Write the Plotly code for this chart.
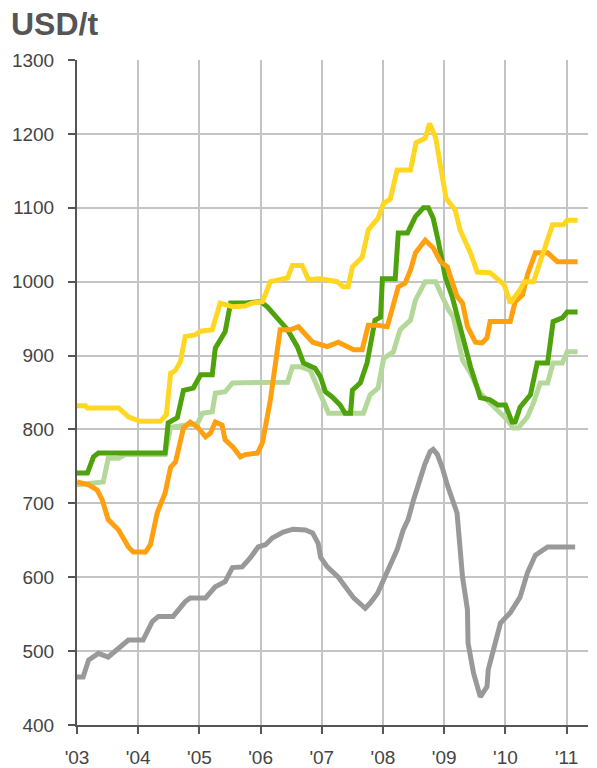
import plotly.graph_objects as go

# (decimal year, USD/t)
yellow = [(2003.00,832),(2003.14,832),(2003.17,829),(2003.68,829),(2003.84,817),(2004.03,811),(2004.36,811),(2004.46,820),(2004.53,876),(2004.61,880),(2004.69,892),(2004.77,926),(2004.93,928),(2005.02,933),(2005.21,935),(2005.34,971),(2005.55,966),(2005.75,967),(2005.86,971),(2006.03,973),(2006.16,1000),(2006.44,1005),(2006.52,1022),(2006.68,1022),(2006.78,1003),(2006.98,1004),(2007.25,1000),(2007.35,993),(2007.43,993),(2007.50,1020),(2007.66,1033),(2007.76,1070),(2007.92,1086),(2008.01,1106),(2008.12,1112),(2008.23,1151),(2008.45,1151),(2008.54,1188),(2008.69,1194),(2008.76,1214),(2008.86,1195),(2008.94,1160),(2009.03,1113),(2009.18,1097),(2009.26,1070),(2009.43,1039),(2009.54,1013),(2009.75,1012),(2009.87,1004),(2009.98,996),(2010.08,971),(2010.16,979),(2010.24,989),(2010.31,1000),(2010.46,1000),(2010.77,1077),(2010.95,1077),(2011.01,1083),(2011.18,1083)]

dark_green = [(2003.00,741),(2003.17,741),(2003.27,763),(2003.35,768),(2004.44,768),(2004.49,809),(2004.64,816),(2004.74,853),(2004.90,856),(2005.02,874),(2005.21,874),(2005.26,910),(2005.42,932),(2005.51,971),(2005.75,971),(2006.00,973),(2006.11,966),(2006.27,952),(2006.44,935),(2006.60,912),(2006.70,890),(2006.89,883),(2006.98,871),(2007.06,851),(2007.17,844),(2007.30,833),(2007.38,822),(2007.47,822),(2007.50,853),(2007.63,863),(2007.74,890),(2007.87,948),(2007.96,952),(2007.99,1004),(2008.20,1004),(2008.25,1066),(2008.40,1066),(2008.53,1088),(2008.66,1100),(2008.74,1100),(2008.82,1086),(2008.90,1056),(2009.02,1006),(2009.13,980),(2009.26,939),(2009.43,885),(2009.59,843),(2009.75,840),(2009.88,833),(2010.00,833),(2010.11,810),(2010.16,810),(2010.24,830),(2010.41,847),(2010.52,890),(2010.69,890),(2010.78,946),(2010.93,951),(2011.01,959),(2011.18,959)]

light_green = [(2003.00,725),(2003.17,727),(2003.43,729),(2003.51,761),(2003.68,761),(2003.79,766),(2004.44,766),(2004.53,803),(2004.97,808),(2005.05,822),(2005.21,824),(2005.26,849),(2005.42,851),(2005.54,863),(2006.44,864),(2006.52,885),(2006.65,885),(2006.81,880),(2006.98,849),(2007.11,822),(2007.68,822),(2007.79,847),(2007.92,856),(2008.01,896),(2008.17,905),(2008.28,935),(2008.45,948),(2008.53,975),(2008.69,1000),(2008.86,1000),(2008.94,985),(2009.07,962),(2009.15,952),(2009.30,894),(2009.43,876),(2009.59,849),(2009.70,840),(2009.92,822),(2010.03,813),(2010.13,802),(2010.21,802),(2010.36,817),(2010.46,836),(2010.57,863),(2010.69,863),(2010.78,890),(2010.93,890),(2011.01,905),(2011.18,905)]

orange = [(2003.00,729),(2003.19,725),(2003.33,718),(2003.41,705),(2003.51,678),(2003.68,664),(2003.84,641),(2003.92,634),(2004.12,634),(2004.20,644),(2004.31,687),(2004.44,714),(2004.53,749),(2004.61,756),(2004.74,802),(2004.85,810),(2004.97,803),(2005.10,790),(2005.18,795),(2005.26,810),(2005.37,806),(2005.42,786),(2005.55,776),(2005.67,763),(2005.75,766),(2005.95,768),(2006.03,782),(2006.11,813),(2006.16,840),(2006.32,935),(2006.49,935),(2006.62,939),(2006.85,918),(2007.09,912),(2007.27,918),(2007.52,908),(2007.66,908),(2007.76,941),(2007.91,941),(2008.07,939),(2008.25,993),(2008.36,998),(2008.45,1016),(2008.53,1039),(2008.69,1056),(2008.82,1046),(2008.94,1027),(2009.05,1020),(2009.21,980),(2009.30,971),(2009.38,939),(2009.51,918),(2009.62,917),(2009.70,924),(2009.75,946),(2010.08,946),(2010.16,973),(2010.28,982),(2010.36,1009),(2010.49,1039),(2010.69,1039),(2010.85,1027),(2011.18,1027)]

gray = [(2003.00,465),(2003.10,465),(2003.19,488),(2003.35,497),(2003.51,492),(2003.66,502),(2003.84,515),(2004.08,515),(2004.23,540),(2004.33,547),(2004.57,547),(2004.77,567),(2004.85,572),(2005.10,572),(2005.26,587),(2005.42,594),(2005.54,613),(2005.70,614),(2005.83,626),(2005.96,641),(2006.08,644),(2006.19,653),(2006.37,661),(2006.53,665),(2006.73,664),(2006.85,660),(2006.94,646),(2006.98,627),(2007.09,614),(2007.27,600),(2007.42,583),(2007.52,572),(2007.71,558),(2007.79,565),(2007.91,578),(2008.01,596),(2008.12,619),(2008.23,637),(2008.33,664),(2008.41,678),(2008.50,705),(2008.58,728),(2008.68,752),(2008.77,770),(2008.82,773),(2008.89,766),(2008.97,748),(2009.05,725),(2009.13,705),(2009.21,687),(2009.30,600),(2009.38,556),(2009.39,511),(2009.48,470),(2009.59,438),(2009.70,452),(2009.72,475),(2009.80,502),(2009.92,538),(2010.08,552),(2010.24,573),(2010.36,606),(2010.49,630),(2010.69,641),(2011.14,641)]

tick_years = [2003, 2004, 2005, 2006, 2007, 2008, 2009, 2010, 2011]
tick_labels = ["'03", "'04", "'05", "'06", "'07", "'08", "'09", "'10", "'11"]
y_ticks = [400, 500, 600, 700, 800, 900, 1000, 1100, 1200, 1300]

series = [
    (gray, "#999999"),
    (light_green, "#B4D89A"),
    (dark_green, "#4EA20C"),
    (orange, "#FFA010"),
    (yellow, "#FFD722"),
]

fig = go.Figure()
for data, color in series:
    xs = [p[0] for p in data]
    ys = [p[1] for p in data]
    fig.add_trace(go.Scatter(x=xs, y=ys, mode="lines",
                             line=dict(color=color, width=5),
                             showlegend=False, hoverinfo="skip"))

font_family = "Liberation Sans, Arial, sans-serif"
fig.update_layout(
    width=597, height=768,
    margin=dict(l=77, r=9, t=60, b=43),
    paper_bgcolor="white", plot_bgcolor="white",
    font=dict(family=font_family, color="#444444", size=19),
    xaxis=dict(range=[2003, 2011.35], tickvals=tick_years, ticktext=tick_labels,
               automargin=False,
               showgrid=True, gridcolor="#C4C4C4", gridwidth=1.5,
               showline=True, linecolor="#555555", linewidth=2,
               ticks="outside", ticklen=7, tickwidth=2, tickcolor="#555555",
               ticklabelstandoff=7, zeroline=False,
               tickfont=dict(size=19, color="#444444")),
    yaxis=dict(range=[400, 1300], tickvals=y_ticks,
               automargin=False,
               showgrid=True, gridcolor="#C4C4C4", gridwidth=1.5,
               showline=True, linecolor="#555555", linewidth=2,
               ticks="outside", ticklen=7, tickwidth=2, tickcolor="#555555",
               ticklabelstandoff=10, zeroline=False,
               tickfont=dict(size=19, color="#444444")),
    annotations=[dict(text="<b>USD/t</b>", xref="paper", yref="paper",
                      x=0, y=1, xanchor="left", yanchor="bottom",
                      xshift=-68, yshift=16, showarrow=False,
                      font=dict(size=32, color="#555555", family=font_family))],
)

fig.write_html("out.html", config={"displayModeBar": False},
               post_script="document.body.style.margin='0';document.body.style.overflow='hidden';")
